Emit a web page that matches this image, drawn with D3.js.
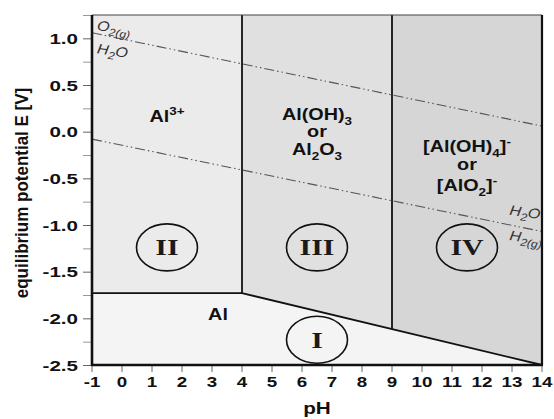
<!DOCTYPE html>
<html><head><meta charset="utf-8">
<script src="https://cdn.jsdelivr.net/npm/d3@7/dist/d3.min.js"></script>
<style>body{margin:0;background:#fff}svg{display:block}</style>
</head><body>
<svg id="c" width="554" height="419"></svg>
<script>
// ---------- data ----------
const phTicks = [-1,0,1,2,3,4,5,6,7,8,9,10,11,12,13,14];
const eMajorTicks = [-2.5,-2.0,-1.5,-1.0,-0.5,0.0,0.5,1.0];
const eMinorTicks = [-2.25,-1.75,-1.25,-0.75,-0.25,0.25,0.75,1.25];
const phDomain = [-1, 14];
const eDomain = [-2.5, 1.25];

// Al / ion boundary (pH, E)
const alBoundary = [[-1,-1.73],[4,-1.73],[14,-2.5]];
// vertical boundaries (pH)
const verticalBoundaries = [4, 9];
// water stability lines (pH, E)
const o2WaterLine = [[-1,1.06],[14,0.06]];
const h2WaterLine = [[-1,-0.08],[14,-1.07]];

const regionColors = {I:"#f4f4f4", II:"#ebebeb", III:"#e0e0e0", IV:"#d6d6d6"};
const circleLabels = ["I","II","III","IV"];
const circleCenters = [[6.5,-2.23],[1.5,-1.24],[6.5,-1.24],[11.5,-1.24]];

const speciesLabels = [
  {ph:1.5, e:0.10, parts:[["Al",""],["3+","sup"]]},
  {ph:6.5, e:0.125, parts:[["Al(OH)",""],["3","sub"]]},
  {ph:6.5, e:-0.057, parts:[["or",""]]},
  {ph:6.5, e:-0.25, parts:[["Al",""],["2","sub"],["O",""],["3","sub"]]},
  {ph:11.5, e:-0.22, parts:[["[Al(OH)",""],["4","sub"],["]",""],["-","sup"]]},
  {ph:11.5, e:-0.41, parts:[["or",""]]},
  {ph:11.5, e:-0.635, parts:[["[AlO",""],["2","sub"],["]",""],["-","sup"]]},
  {ph:3.2, e:-2.02, parts:[["Al",""]]}
];
const waterLabels = [
  {ph:-0.85, e:1.09, parts:[["O",""],["2(g)","sub"]]},
  {ph:-0.85, e:0.84, parts:[["H",""],["2","sub"],["O",""]]},
  {ph:12.9, e:-0.89, parts:[["H",""],["2","sub"],["O",""]]},
  {ph:12.9, e:-1.16, parts:[["H",""],["2(g)","sub"]]}
];

// ---------- drawing ----------
const svg = d3.select("#c");
const x = d3.scaleLinear().domain(phDomain).range([92, 542]);
const y = d3.scaleLinear().domain(eDomain).range([365, 15]);
const SANS = "'Liberation Sans', Arial, sans-serif";
const SX = 1.34, SY_X = 1.42;
const fmtE = d3.formatLocale({decimal:".", thousands:",", grouping:[3], currency:["",""], minus:"-"}).format(".1f");

function boundaryAt(ph){
  for (let i=0;i<alBoundary.length-1;i++){
    const a=alBoundary[i], b=alBoundary[i+1];
    if (ph>=a[0] && ph<=b[0]) return a[1]+(b[1]-a[1])*(ph-a[0])/(b[0]-a[0]);
  }
  return alBoundary[alBoundary.length-1][1];
}
const eTop = eDomain[1], eBot = eDomain[0];
const [v1, v2] = verticalBoundaries;
const polys = {
  I: [[phDomain[0],eBot], ...alBoundary, [phDomain[1],eBot]],
  II: [[phDomain[0],eTop],[v1,eTop],[v1,boundaryAt(v1)],[phDomain[0],boundaryAt(phDomain[0])]],
  III: [[v1,eTop],[v2,eTop],[v2,boundaryAt(v2)],[v1,boundaryAt(v1)]],
  IV: [[v2,eTop],[phDomain[1],eTop],[phDomain[1],boundaryAt(phDomain[1])],[v2,boundaryAt(v2)]]
};
const line = d3.line().x(d=>x(d[0])).y(d=>y(d[1]));
Object.entries(polys).forEach(([k,p])=>{
  svg.append("path").attr("d", line(p)+"Z").attr("fill", regionColors[k]).attr("stroke","none");
});

// water lines
[o2WaterLine, h2WaterLine].forEach(l=>{
  svg.append("path").attr("d", line(l)).attr("fill","none")
    .attr("stroke","#555").attr("stroke-width",1.1)
    .attr("stroke-dasharray","10,3,1.5,3,1.5,3");
});

// boundaries
svg.append("path").attr("d", line(alBoundary)).attr("fill","none")
  .attr("stroke","#111").attr("stroke-width",1.8);
verticalBoundaries.forEach(v=>{
  svg.append("path").attr("d", line([[v,eTop],[v,boundaryAt(v)]]))
    .attr("stroke","#111").attr("stroke-width",1.8);
});

// frame
svg.append("line").attr("x1",x(phDomain[0])).attr("x2",x(phDomain[1])).attr("y1",y(eTop)).attr("y2",y(eTop))
  .attr("stroke","#444").attr("stroke-width",1.2);
svg.append("line").attr("x1",x(phDomain[1])).attr("x2",x(phDomain[1])).attr("y1",y(eTop)).attr("y2",y(eBot))
  .attr("stroke","#111").attr("stroke-width",2.2);

// axes
const gy = svg.append("g").attr("transform",`translate(${x(phDomain[0])},0)`);
gy.call(d3.axisLeft(y).tickValues(eMinorTicks).tickSize(9).tickFormat(""));
gy.selectAll("line").attr("stroke","#999");
const gy2 = svg.append("g").attr("transform",`translate(${x(phDomain[0])},0)`);
gy2.call(d3.axisLeft(y).tickValues(eMajorTicks).tickSize(9).tickPadding(5).tickFormat(fmtE));
gy2.selectAll("line").attr("stroke","#666");
[gy, gy2].forEach(g=>g.select(".domain").remove());
gy2.selectAll("text").attr("font-family",SANS).attr("font-weight","bold").attr("font-size",14.5)
  .attr("fill","#111").attr("transform",`scale(${SY_X},1)`).attr("x",-14/SY_X).attr("dy","0.36em");

const gx = svg.append("g").attr("transform",`translate(0,${y(eBot)})`);
gx.call(d3.axisBottom(x).tickValues(phTicks).tickSize(7).tickPadding(5).tickFormat(d=>String(d)));
gx.select(".domain").remove();
gx.selectAll("line").attr("stroke","#666");
gx.selectAll(".tick").each(function(d){
  const tx = x(d);
  d3.select(this).select("text").attr("transform",`translate(${tx},0) scale(${SX},1)`);
  d3.select(this).attr("transform",null).select("line").attr("x1",tx).attr("x2",tx);
});
gx.selectAll("text").attr("font-family",SANS).attr("font-weight","bold").attr("font-size",14)
  .attr("fill","#111").attr("y",12).attr("dy","0.71em");

svg.append("line").attr("x1",x(phDomain[0])).attr("x2",x(phDomain[0])).attr("y1",y(eTop)).attr("y2",y(eBot)+1)
  .attr("stroke","#111").attr("stroke-width",2.6);
svg.append("line").attr("x1",x(phDomain[0])-1).attr("x2",x(phDomain[1])+1).attr("y1",y(eBot)).attr("y2",y(eBot))
  .attr("stroke","#111").attr("stroke-width",2.6);

// rich text helper
function rich(px, py, parts, o){
  const t = svg.append("text")
    .attr("transform",`translate(${px},${py}) rotate(${o.rot||0}) scale(${o.sx||1},1)`)
    .attr("text-anchor", o.anchor||"middle")
    .attr("font-family", o.family||SANS).attr("font-size", o.size)
    .attr("font-weight", o.weight||"normal").attr("font-style", o.style||"normal")
    .attr("fill", o.fill||"#111");
  let shift = 0;
  const sf = o.subScale || 0.68;
  parts.forEach(([s,k])=>{
    const ts = t.append("tspan").text(s);
    let target = 0, fs = o.size;
    if (k==="sub"){ target = o.size*0.28; fs = o.size*sf; }
    if (k==="sup"){ target = -o.size*0.42; fs = o.size*sf; }
    ts.attr("font-size", fs);
    if (target!==shift){ ts.attr("dy", target-shift); shift = target; }
  });
  return t;
}

speciesLabels.forEach(l=>{
  rich(x(l.ph), y(l.e), l.parts, {size:16.5, weight:"bold", sx:1.2});
});
const ang = Math.atan2(y(o2WaterLine[1][1])-y(o2WaterLine[0][1]), x(o2WaterLine[1][0])-x(o2WaterLine[0][0]))*180/Math.PI;
waterLabels.forEach(l=>{
  rich(x(l.ph), y(l.e), l.parts, {size:14, style:"italic", sx:1.15, anchor:"start", rot:ang*0.7, fill:"#333", subScale:0.75});
});

// circles with Roman numerals
circleLabels.forEach((lab,i)=>{
  const [cx,cy] = circleCenters[i];
  svg.append("ellipse").attr("cx",x(cx)).attr("cy",y(cy)).attr("rx",30.5).attr("ry",23.5)
    .attr("fill","none").attr("stroke","#111").attr("stroke-width",1.6);
  svg.append("text").attr("transform",`translate(${x(cx)},${y(cy)+8}) scale(1.3,1)`)
    .attr("text-anchor","middle").attr("font-family","'Liberation Serif','Times New Roman',serif")
    .attr("font-weight","bold").attr("font-size",23).attr("fill","#1a1a1a").text(lab);
});

// axis titles
svg.append("text").attr("transform",`translate(${x(6.5)},414) scale(1.22,1)`)
  .attr("text-anchor","middle").attr("font-family",SANS).attr("font-weight","bold")
  .attr("font-size",17).attr("fill","#111").text("pH");
svg.append("text").attr("transform","translate(28,193) rotate(-90) scale(1,1.12)")
  .attr("text-anchor","middle").attr("font-family",SANS).attr("font-weight","bold")
  .attr("font-size",17).attr("fill","#111").text("equilibrium potential E [V]");
</script>
</body></html>
